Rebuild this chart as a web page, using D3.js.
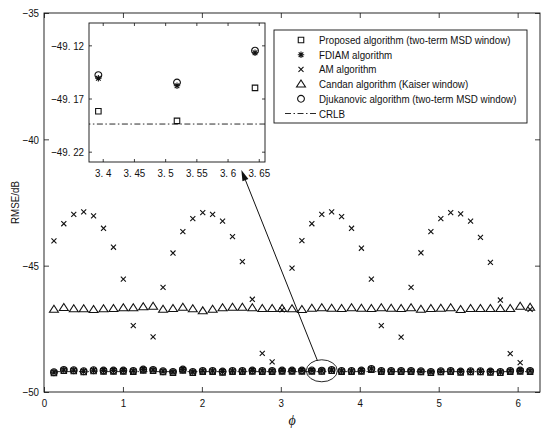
<!DOCTYPE html>
<html>
<head>
<meta charset="utf-8">
<script src="https://cdn.jsdelivr.net/npm/d3@7"></script>
<style>
  body { margin: 0; background: #fff; }
  svg text { font-family: "Liberation Sans", Arial, sans-serif; fill: #111; }
</style>
</head>
<body>
<div id="chart"></div>
<script>
// phase values, k * 2pi / 50 for k = 1..49
const phi = [0.126, 0.251, 0.377, 0.503, 0.628, 0.754, 0.880, 1.005, 1.131, 1.257,
             1.382, 1.508, 1.634, 1.759, 1.885, 2.011, 2.136, 2.262, 2.388, 2.513,
             2.639, 2.765, 2.890, 3.016, 3.142, 3.267, 3.393, 3.519, 3.644, 3.770,
             3.896, 4.021, 4.147, 4.273, 4.398, 4.524, 4.650, 4.775, 4.901, 5.027,
             5.152, 5.278, 5.404, 5.529, 5.655, 5.781, 5.906, 6.032, 6.158];

const proposed = [-49.250, -49.158, -49.171, -49.210, -49.171, -49.184, -49.184, -49.184, -49.197, -49.144,
                  -49.158, -49.210, -49.237, -49.144, -49.237, -49.197, -49.197, -49.224, -49.197, -49.197,
                  -49.184, -49.197, -49.197, -49.184, -49.184, -49.184, -49.182, -49.191, -49.160, -49.197,
                  -49.197, -49.184, -49.118, -49.197, -49.197, -49.197, -49.197, -49.210, -49.237, -49.210,
                  -49.197, -49.224, -49.210, -49.210, -49.224, -49.237, -49.197, -49.184, -49.197];

const fdiam = [-49.219, -49.127, -49.140, -49.179, -49.140, -49.153, -49.153, -49.153, -49.166, -49.113,
               -49.127, -49.179, -49.206, -49.113, -49.206, -49.166, -49.166, -49.193, -49.166, -49.166,
               -49.153, -49.166, -49.166, -49.153, -49.153, -49.153, -49.151, -49.158, -49.127, -49.166,
               -49.166, -49.153, -49.087, -49.166, -49.166, -49.166, -49.166, -49.179, -49.206, -49.179,
               -49.166, -49.193, -49.179, -49.179, -49.193, -49.206, -49.166, -49.153, -49.166];

// AM: two points fall below the axis (-50) and are not shown
const am = [-44.02, -43.34, -42.97, -42.87, -43.03, -43.52, -44.27, -45.53, -47.37, null,
            -47.82, -45.86, -44.50, -43.65, -43.14, -42.90, -42.97, -43.24, -43.85, -44.84,
            -46.33, -48.47, -48.81, -46.75, -45.10, -44.01, -43.34, -42.97, -42.87, -43.06,
            -43.52, -44.31, -45.53, -47.37, null, -47.83, -45.86, -44.49, -43.65, -43.14,
            -42.90, -42.95, -43.24, -43.88, -44.87, -46.36, -48.48, -48.84, -46.73];

const candan = [-46.73, -46.66, -46.71, -46.71, -46.74, -46.71, -46.70, -46.67, -46.67, -46.63,
                -46.61, -46.73, -46.70, -46.65, -46.71, -46.79, -46.73, -46.67, -46.65, -46.65,
                -46.67, -46.70, -46.70, -46.70, -46.71, -46.74, -46.69, -46.67, -46.69, -46.70,
                -46.67, -46.69, -46.70, -46.67, -46.69, -46.70, -46.67, -46.73, -46.70, -46.69,
                -46.67, -46.74, -46.70, -46.70, -46.70, -46.70, -46.70, -46.61, -46.65];

const djukanovic = [-49.216, -49.124, -49.137, -49.176, -49.137, -49.150, -49.150, -49.150, -49.163, -49.110,
                    -49.124, -49.176, -49.203, -49.110, -49.203, -49.163, -49.163, -49.190, -49.163, -49.163,
                    -49.150, -49.163, -49.163, -49.150, -49.150, -49.150, -49.148, -49.155, -49.125, -49.163,
                    -49.163, -49.150, -49.084, -49.163, -49.163, -49.163, -49.163, -49.176, -49.203, -49.176,
                    -49.163, -49.190, -49.176, -49.176, -49.190, -49.203, -49.163, -49.150, -49.163];

const crlb = -49.194;

const legendLabels = ["Proposed algorithm (two-term MSD window)", "FDIAM algorithm", "AM algorithm",
                      "Candan algorithm (Kaiser window)", "Djukanovic algorithm (two-term MSD window)", "CRLB"];
const markerTypes = ["square", "star", "x", "triangle", "circle", "line"];

const xTicks = [0, 1, 2, 3, 4, 5, 6];
const yTicks = [-50, -45, -40, -35];
const insetXTicks = [3.4, 3.45, 3.5, 3.55, 3.6, 3.65];
const insetYTicks = [-49.22, -49.17, -49.12];

const series = [proposed, fdiam, am, candan, djukanovic];

// ---- layout ----
const width = 550, height = 431;
const margin = {left: 44, top: 13, right: 10, bottom: 39};
const w = width - margin.left - margin.right;
const h = height - margin.top - margin.bottom;
const ink = "#111";
const lw = 1.1;

const svg = d3.select("#chart").append("svg")
    .attr("width", width)
    .attr("height", height);

const x = d3.scaleLinear().domain([0, 2 * Math.PI]).range([margin.left, margin.left + w]);
const y = d3.scaleLinear().domain([-50, -35]).range([margin.top + h, margin.top]);

// marker shapes (MATLAB-like, unfilled)
function markerPath(type, s) {
    let p = d3.path();
    if (type === "square") {
        p.rect(-s / 2, -s / 2, s, s);
    } else if (type === "circle") {
        p.arc(0, 0, s / 2, 0, 2 * Math.PI);
    } else if (type === "triangle") {
        let r = s * 0.58;
        p.moveTo(0, -r); p.lineTo(r * 1.1, r * 0.7); p.lineTo(-r * 1.1, r * 0.7); p.closePath();
    } else if (type === "x") {
        let r = s * 0.42;
        p.moveTo(-r, -r); p.lineTo(r, r); p.moveTo(-r, r); p.lineTo(r, -r);
    } else if (type === "star") {
        let r = s * 0.5, d = r * 0.72;
        p.moveTo(-r, 0); p.lineTo(r, 0); p.moveTo(0, -r); p.lineTo(0, r);
        p.moveTo(-d, -d); p.lineTo(d, d); p.moveTo(-d, d); p.lineTo(d, -d);
    }
    return p.toString();
}
const markerSize = {square: 5.5, circle: 6.8, triangle: 7, x: 6, star: 6.4};

function drawMarkers(g, xs, ys, vals, type) {
    let pts = vals.map((v, i) => ({p: phi[i], v: v})).filter(d => d.v !== null);
    g.selectAll(null)
        .data(pts)
        .enter()
        .append("path")
        .attr("transform", d => `translate(${xs(d.p)},${ys(d.v)})`)
        .attr("d", markerPath(type, markerSize[type]))
        .attr("fill", "none")
        .attr("stroke", ink)
        .attr("stroke-width", lw);
}

function crlbLine(g, xs, ys) {
    g.append("line")
        .attr("x1", xs(phi[0])).attr("x2", xs(phi[phi.length - 1]))
        .attr("y1", ys(crlb)).attr("y2", ys(crlb))
        .attr("stroke", ink)
        .attr("stroke-width", 0.9)
        .attr("stroke-dasharray", "6,2.5,1.5,2.5");
}

// ---- main axes ----
svg.append("clipPath").attr("id", "clipMain")
    .append("rect").attr("x", margin.left).attr("y", margin.top).attr("width", w).attr("height", h);

function styleAxis(g) {
    g.select(".domain").remove();
    g.selectAll(".tick line").attr("stroke", ink).attr("stroke-width", 0.8);
    g.selectAll("text").attr("fill", ink).style("font-size", "11.5px");
}

svg.append("g")
    .attr("transform", `translate(0,${margin.top + h})`)
    .call(d3.axisBottom(x).tickValues(xTicks).tickSizeInner(-5).tickSizeOuter(0).tickPadding(7).tickFormat(d3.format("d")))
    .call(styleAxis);
svg.append("g")
    .attr("transform", `translate(0,${margin.top})`)
    .call(d3.axisTop(x).tickValues(xTicks).tickSizeInner(-5).tickSizeOuter(0).tickFormat(""))
    .call(styleAxis);
svg.append("g")
    .attr("transform", `translate(${margin.left},0)`)
    .call(d3.axisLeft(y).tickValues(yTicks).tickSizeInner(-5).tickSizeOuter(0).tickPadding(5))
    .call(styleAxis);
svg.append("g")
    .attr("transform", `translate(${margin.left + w},0)`)
    .call(d3.axisRight(y).tickValues(yTicks).tickSizeInner(-5).tickSizeOuter(0).tickFormat(""))
    .call(styleAxis);

svg.append("rect")
    .attr("x", margin.left).attr("y", margin.top)
    .attr("width", w).attr("height", h)
    .attr("fill", "none").attr("stroke", ink).attr("stroke-width", 0.9);

// axis titles
svg.append("text")
    .attr("class", "keep")
    .attr("x", margin.left + w / 2).attr("y", 425)
    .attr("text-anchor", "middle")
    .style("font-family", "'Liberation Serif', 'DejaVu Serif', serif")
    .style("font-style", "italic")
    .style("font-size", "14px")
    .text("\u03D5");
svg.append("text")
    .attr("transform", `translate(19,${margin.top + h / 2}) rotate(-90)`)
    .attr("text-anchor", "middle")
    .style("font-size", "11.5px")
    .text("RMSE/dB");

// data
let plot = svg.append("g").attr("clip-path", "url(#clipMain)");
series.forEach((s, i) => drawMarkers(plot, x, y, s, markerTypes[i]));
crlbLine(plot, x, y);

// ellipse + arrow to the zoomed region
svg.append("ellipse")
    .attr("cx", x(3.519)).attr("cy", y(-49.16))
    .attr("rx", 15.5).attr("ry", 11)
    .attr("fill", "none").attr("stroke", ink).attr("stroke-width", 0.9);

let a0 = [x(3.464), y(-48.76)], a1 = [x(2.50), y(-41.21)];
let ang = Math.atan2(a1[1] - a0[1], a1[0] - a0[0]);
let headLen = 11, headW = 3.2;
let base = [a1[0] - headLen * Math.cos(ang), a1[1] - headLen * Math.sin(ang)];
svg.append("line")
    .attr("x1", a0[0]).attr("y1", a0[1]).attr("x2", base[0]).attr("y2", base[1])
    .attr("stroke", ink).attr("stroke-width", 1);
svg.append("path")
    .attr("d", `M${a1[0]},${a1[1]} L${base[0] - headW * Math.sin(ang)},${base[1] + headW * Math.cos(ang)} L${base[0] + headW * Math.sin(ang)},${base[1] - headW * Math.cos(ang)} Z`)
    .attr("fill", ink);

// ---- inset ----
const inset = {left: 89, top: 23, width: 176, height: 139};
const xi = d3.scaleLinear().domain([3.378, 3.66]).range([inset.left, inset.left + inset.width]);
const yi = d3.scaleLinear().domain([-49.2297, -49.099]).range([inset.top + inset.height, inset.top]);

svg.append("rect")
    .attr("x", inset.left).attr("y", inset.top)
    .attr("width", inset.width).attr("height", inset.height)
    .attr("fill", "#fff");

svg.append("clipPath").attr("id", "clipInset")
    .append("rect").attr("x", inset.left).attr("y", inset.top).attr("width", inset.width).attr("height", inset.height);

const insetFmt = d => d3.format("~g")(d).replace("-", "\u2212").replace(".", ". ");

svg.append("g")
    .attr("transform", `translate(0,${inset.top + inset.height})`)
    .call(d3.axisBottom(xi).tickValues(insetXTicks).tickSizeInner(-3).tickSizeOuter(0).tickPadding(7).tickFormat(insetFmt))
    .call(styleAxis);
svg.append("g")
    .attr("transform", `translate(0,${inset.top})`)
    .call(d3.axisTop(xi).tickValues(insetXTicks).tickSizeInner(-3).tickSizeOuter(0).tickFormat(""))
    .call(styleAxis);
svg.append("g")
    .attr("transform", `translate(${inset.left},0)`)
    .call(d3.axisLeft(yi).tickValues(insetYTicks).tickSizeInner(-3).tickSizeOuter(0).tickPadding(5).tickFormat(insetFmt))
    .call(styleAxis);
svg.append("g")
    .attr("transform", `translate(${inset.left + inset.width},0)`)
    .call(d3.axisRight(yi).tickValues(insetYTicks).tickSizeInner(-3).tickSizeOuter(0).tickFormat(""))
    .call(styleAxis);

let insetPlot = svg.append("g").attr("clip-path", "url(#clipInset)");
series.forEach((s, i) => drawMarkers(insetPlot, xi, yi, s, markerTypes[i]));
crlbLine(insetPlot, xi, yi);

svg.append("rect")
    .attr("x", inset.left).attr("y", inset.top)
    .attr("width", inset.width).attr("height", inset.height)
    .attr("fill", "none").attr("stroke", ink).attr("stroke-width", 0.9);

// ---- legend ----
const lg = {x: 274, y: 30, width: 253, height: 93, row: 14.7};
svg.append("rect")
    .attr("x", lg.x).attr("y", lg.y).attr("width", lg.width).attr("height", lg.height)
    .attr("fill", "#fff").attr("stroke", ink).attr("stroke-width", 0.9);

let rows = svg.append("g").selectAll("g")
    .data(legendLabels)
    .enter()
    .append("g")
    .attr("transform", (d, i) => `translate(${lg.x},${lg.y + 10 + i * lg.row})`);

rows.append("text")
    .attr("x", 45).attr("dy", "0.35em")
    .style("font-size", "11.5px")
    .text(d => d);

rows.filter((d, i) => markerTypes[i] !== "line")
    .append("path")
    .attr("transform", "translate(27,0)")
    .attr("d", (d, i) => markerPath(markerTypes[i], markerSize[markerTypes[i]]))
    .attr("fill", "none").attr("stroke", ink).attr("stroke-width", lw);

rows.filter((d, i) => markerTypes[i] === "line")
    .append("line")
    .attr("x1", 11).attr("x2", 43)
    .attr("stroke", ink).attr("stroke-width", 0.9)
    .attr("stroke-dasharray", "6,2.5,1.5,2.5");

// the source figure uses a condensed sans face: squeeze text horizontally about its anchor
svg.selectAll("text:not(.keep)").each(function () {
    let t = d3.select(this);
    let ax = +(t.attr("x") || 0);
    let tr = t.attr("transform") || "";
    t.attr("transform", `${tr} translate(${ax},0) scale(0.85,1) translate(${-ax},0)`);
});
</script>
</body>
</html>
